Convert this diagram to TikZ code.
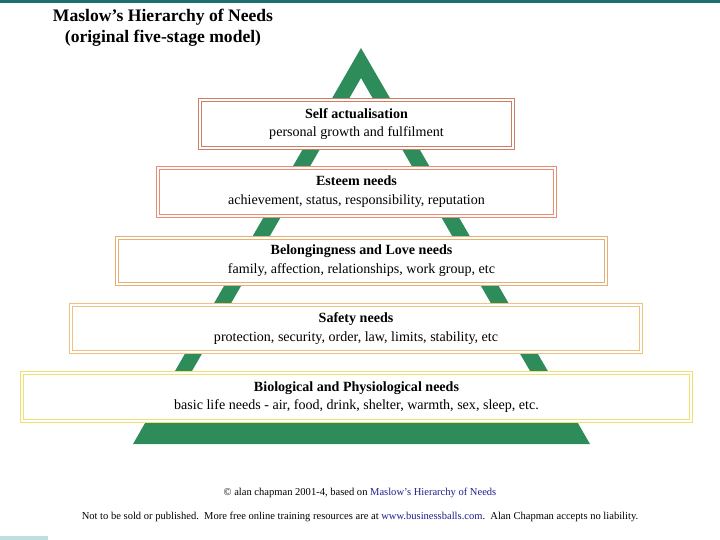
\documentclass[tikz,border=0pt]{standalone}
\usepackage{fontspec}
\setmainfont{Liberation Serif}
\usetikzlibrary{positioning}
\definecolor{barteal}{RGB}{30,112,112}
\definecolor{stripblue}{RGB}{192,221,224}
\definecolor{pyrgreen}{RGB}{46,140,90}
\definecolor{selfcol}{RGB}{205,125,100}
\definecolor{esteemcol}{RGB}{232,140,115}
\definecolor{belongcol}{RGB}{232,175,115}
\definecolor{safetycol}{RGB}{238,195,130}
\definecolor{biocol}{RGB}{240,225,110}
\definecolor{linkblue}{RGB}{30,30,140}

\begin{document}
\begin{tikzpicture}[
    x=0.03cm, y=-0.03cm,
    level/.style={draw=#1, line width=0.8pt, fill=white,
                  minimum height=1.53cm, align=center, inner sep=0pt,
                  font=\fontsize{12}{16}\selectfont},
    inner frame/.style={draw=#1, line width=0.8pt},
    heading/.style={font=\fontsize{15}{18}\selectfont\bfseries, align=center},
    small/.style={font=\fontsize{9}{10}\selectfont}
]
\useasboundingbox (0,0) rectangle (720,540);

% frame strips
\fill[barteal] (0,0) rectangle (720,3);
\fill[stripblue] (0,536) rectangle (48,540);

% the pyramid
\fill[pyrgreen, even odd rule] (361,48) -- (133,444) -- (590,444) -- cycle
                               (361,78) -- (162,423) -- (560,423) -- cycle;

\node[heading] (title) at (163,28) {Maslow's Hierarchy of Needs\\(original five-stage model)};

% need levels, top to bottom
\node[level=selfcol, minimum width=9.48cm] (self) at (356.5,124)
  {\textbf{Self actualisation}\\personal growth and fulfilment};
\node[level=esteemcol, minimum width=12.0cm] (esteem) at (356.5,192)
  {\textbf{Esteem needs}\\achievement, status, responsibility, reputation};
\node[level=belongcol, minimum width=14.76cm, minimum height=1.47cm] (belong) at (361.5,261)
  {\textbf{Belongingness and Love needs}\\family, affection, relationships, work group, etc};
\node[level=safetycol, minimum width=17.19cm, minimum height=1.50cm] (safety) at (356,328.5)
  {\textbf{Safety needs}\\protection, security, order, law, limits, stability, etc};
\node[level=biocol, minimum width=20.16cm] (bio) at (356.5,397)
  {\textbf{Biological and Physiological needs}\\basic life needs - air, food, drink, shelter, warmth, sex, sleep, etc.};

% second line of each border
\foreach \lev/\col in {self/selfcol, esteem/esteemcol, belong/belongcol, safety/safetycol, bio/biocol}
  \draw[inner frame=\col] ([shift={(2.6pt,-2.6pt)}]\lev.north west)
                          rectangle ([shift={(-2.6pt,2.6pt)}]\lev.south east);

% credits
\node[small] (credit) at (360,493)
  {© alan chapman 2001-4, based on \textcolor{linkblue}{Maslow's Hierarchy of Needs}};
\node[small] (notice) at (360,517)
  {Not to be sold or published.\ \ More free online training resources are at \textcolor{linkblue}{www.businessballs.com}.\ \ Alan Chapman accepts no liability.};

\end{tikzpicture}
\end{document}
